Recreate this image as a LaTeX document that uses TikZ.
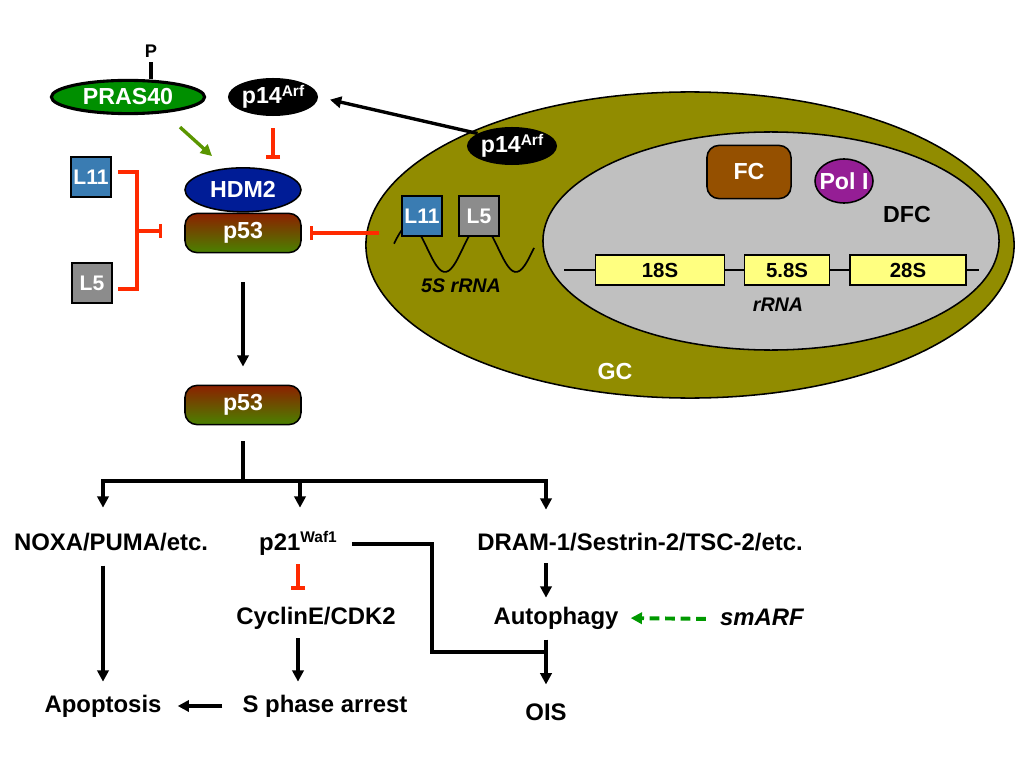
\documentclass[tikz,border=0pt]{standalone}
\usepackage{fontspec}
\setmainfont{Liberation Sans}
\usetikzlibrary{arrows.meta,positioning,shapes.geometric}
\definecolor{prasgreen}{HTML}{008F00}
\definecolor{hdmblue}{HTML}{001C96}
\definecolor{rplblue}{HTML}{3A7CB2}
\definecolor{rplgrey}{HTML}{8C8C8C}
\definecolor{gcolive}{HTML}{918C00}
\definecolor{dfcgrey}{HTML}{C0C0C0}
\definecolor{fcbrown}{HTML}{955000}
\definecolor{polpurple}{HTML}{951E95}
\definecolor{rnayellow}{HTML}{FFFF80}
\definecolor{inhred}{HTML}{FF2A00}
\definecolor{actgreen}{HTML}{5A9600}
\definecolor{smgreen}{HTML}{009900}
\definecolor{ptop}{HTML}{8C2000}
\definecolor{pbot}{HTML}{4A8200}
\newcommand{\fbig}{\fontsize{16.5}{19}\selectfont\bfseries}
\newcommand{\fmid}{\fontsize{15}{17}\selectfont\bfseries}
\newcommand{\fsmall}{\fontsize{14.5}{17}\selectfont\bfseries}
\newcommand{\supx}[1]{\raisebox{0.32em}{\fontsize{11}{12}\selectfont #1}}
\tikzset{
  oval/.style={ellipse, inner sep=0pt, text=white, font=\fbig},
  rpl/.style={draw=black, line width=1.4pt, minimum size=1cm, inner sep=0pt, text=white, font=\fmid},
  p53box/.style={draw=black, line width=1.1pt, rounded corners=0.3cm, minimum width=2.9cm,
                 minimum height=0.98cm, top color=ptop, bottom color=pbot, text=white, font=\fbig},
  rnabox/.style={draw=black, line width=1.1pt, fill=rnayellow, minimum height=0.75cm, inner sep=0pt, font=\fsmall},
  txt/.style={font=\fontsize{17}{20}\selectfont\bfseries, inner sep=2pt, text height=12.5pt, text depth=3.5pt},
  act/.style={-{Triangle[length=8pt,width=8pt]}, line width=2.4pt},
  inh/.style={-{Bar[width=10pt]}, line width=2.6pt, draw=inhred},
  wire/.style={line width=2.6pt}
}
\begin{document}
\begin{tikzpicture}[x=0.025cm, y=-0.025cm]
  \useasboundingbox (0,0) rectangle (1024,768);

  %% Nucleolus
  \node[ellipse, draw=black, line width=1.1pt, fill=gcolive, minimum width=16.2cm, minimum height=7.65cm] (gc) at (690,245) {};
  \node[ellipse, draw=black, line width=1.1pt, fill=dfcgrey, minimum width=11.4cm, minimum height=5.45cm] (dfc) at (771,241) {};
  \node[text=white, font=\fbig] (gclab) at (615,372) {GC};
  \node[font=\fbig] (dfclab) at (907,215) {DFC};
  \node[draw=black, line width=1.1pt, rounded corners=0.3cm, fill=fcbrown, minimum width=2.1cm,
        minimum height=1.33cm, text=white, font=\fbig] (fc) at (749,172) {FC};
  \node[ellipse, draw=black, line width=1.1pt, fill=polpurple, minimum width=1.45cm, minimum height=1.1cm] (pol) at (844,181) {};
  \node[text=white, font=\fbig] (poltxt) at (pol) {Pol I};

  %% rRNA gene
  \coordinate (rna0) at (564,270);
  \coordinate (rna1) at (979,270);
  \draw[line width=1.6pt] (rna0) -- (rna1);
  \node[rnabox, minimum width=3.23cm] (r18) at (660,270) {18S};
  \node[rnabox, minimum width=2.13cm] (r58) at (787,270) {5.8S};
  \node[rnabox, minimum width=2.9cm] (r28) at (908,270) {28S};
  \node[font=\fontsize{14}{16}\selectfont\bfseries\itshape] (rrna) at (778,305) {rRNA};

  %% 5S RNP
  \draw[line width=1.2pt] plot[domain=394:534, samples=60, smooth] (\x,{248.4+23.6*cos((\x-445)*5.0704)});
  \node[rpl, fill=rplblue] (l11n) at (422,216) {L11};
  \node[rpl, fill=rplgrey] (l5n) at (479,216) {L5};
  \node[font=\fontsize{14}{16}\selectfont\bfseries\itshape] (fivesl) at (461,286) {5S rRNA};
  \node[oval, fill=black, minimum width=2.25cm, minimum height=0.95cm] (p14n) at (512,146) {p14\supx{Arf}};

  %% Nucleoplasm
  \node[oval, draw=black, line width=2.2pt, fill=prasgreen, minimum width=3.83cm, minimum height=0.83cm] (pras) at (128,97) {PRAS40};
  \node[font=\fontsize{13}{15}\selectfont\bfseries] (phos) at (151,51) {P};
  \node[oval, fill=black, minimum width=2.25cm, minimum height=0.95cm] (p14c) at (273,97) {p14\supx{Arf}};
  \node[p53box] (p53a) at (243,233) {p53};
  \node[oval, draw=black, line width=1.1pt, fill=hdmblue, minimum width=2.9cm, minimum height=1.1cm,
        above=0pt of p53a] (hdm) {HDM2};
  \node[rpl, fill=rplblue] (l11c) at (91,177) {L11};
  \node[rpl, fill=rplgrey] (l5c) at (92,283) {L5};
  \node[p53box] (p53b) at (243,405) {p53};

  \draw[line width=2.4pt] (phos.south) -- (phos.south |- pras.north);
  \draw[act, shorten >=0.3cm] (p14n.160) -- (p14c.east);
  \draw[act, draw=actgreen] ([shift={(52,12)}]pras.south) -- ([shift={(-31,-11)}]hdm.north);
  \draw[inh, shorten <=0.3cm, shorten >=0.2cm] (p14c.south) -- (p14c.south |- hdm.north);
  \coordinate (lbr) at (137,231);
  \draw[inhred, line width=2.6pt] ([shift={(6,-5)}]l11c.east) -| (lbr) |- ([shift={(5,6)}]l5c.east);
  \draw[inh, shorten >=0.55cm] (lbr) -- (lbr -| p53a.west);
  \draw[inh, shorten >=0.2cm] ([xshift=0.35cm]p53a.east -| gc.west) -- (p53a.east);
  \draw[act, shorten <=0.72cm, shorten >=0.45cm] (p53a.south) -- (p53b.north);

  %% Targets
  \node[txt] (noxa) at (111,544) {NOXA/PUMA/etc.};
  \node[txt] (p21) at (298,544) {p21\supx{Waf1}};
  \node[txt] (dram) at (640,544) {DRAM-1/Sestrin-2/TSC-2/etc.};
  \node[txt] (cyc) at (316,618) {CyclinE/CDK2};
  \node[txt] (autoph) at (556,618) {Autophagy};
  \node[txt, font=\fontsize{17}{20}\selectfont\bfseries\itshape] (smarf) at (762,619) {smARF};
  \node[txt] (apop) at (103,706) {Apoptosis};
  \node[txt] (sph) at (325,706) {S phase arrest};
  \node[txt] (ois) at (546,714) {OIS};

  \coordinate (fk) at (243,481);
  \coordinate (fk1) at (103,481);
  \coordinate (fk2) at (300,481);
  \coordinate (fk3) at (546,481);
  \draw[wire] ([yshift=-0.4cm]p53b.south) -- (fk);
  \draw[wire, line cap=rect] (fk1) -- (fk3);
  \draw[act, shorten >=0.55cm] (fk1) -- (fk1 |- noxa.north);
  \draw[act, shorten >=0.55cm] (fk2) -- (fk2 |- p21.north);
  \draw[act, shorten >=0.5cm] (fk3) -- (fk3 |- dram.north);
  \draw[act, shorten <=0.18cm, shorten >=0.25cm] (fk1 |- noxa.south) -- (fk1 |- apop.north);
  \draw[inh, shorten <=0.15cm, shorten >=0.35cm] (p21.south) -- (p21.south |- cyc.north);
  \draw[act, shorten <=0.15cm, shorten >=0.25cm] (p21.south |- cyc.south) -- (p21.south |- sph.north);
  \draw[act, shorten <=0.43cm, shorten >=0.33cm] (sph.west) -- (apop.east);
  \draw[act, shorten <=0.12cm, shorten >=0.15cm] (fk3 |- dram.south) -- (fk3 |- autoph.north);
  \draw[act, shorten <=0.18cm, shorten >=0.38cm] (fk3 |- autoph.south) -- (fk3 |- ois.north);
  \coordinate (pj) at (432,652);
  \draw[wire] ([xshift=0.3cm]p21.east) -| (pj) -- (pj -| fk3);
  \draw[act, draw=smgreen, line width=2.8pt, dash pattern=on 7pt off 4pt,
        shorten <=0.28cm, shorten >=0.23cm] (smarf.west) -- (autoph.east);

\end{tikzpicture}
\end{document}
